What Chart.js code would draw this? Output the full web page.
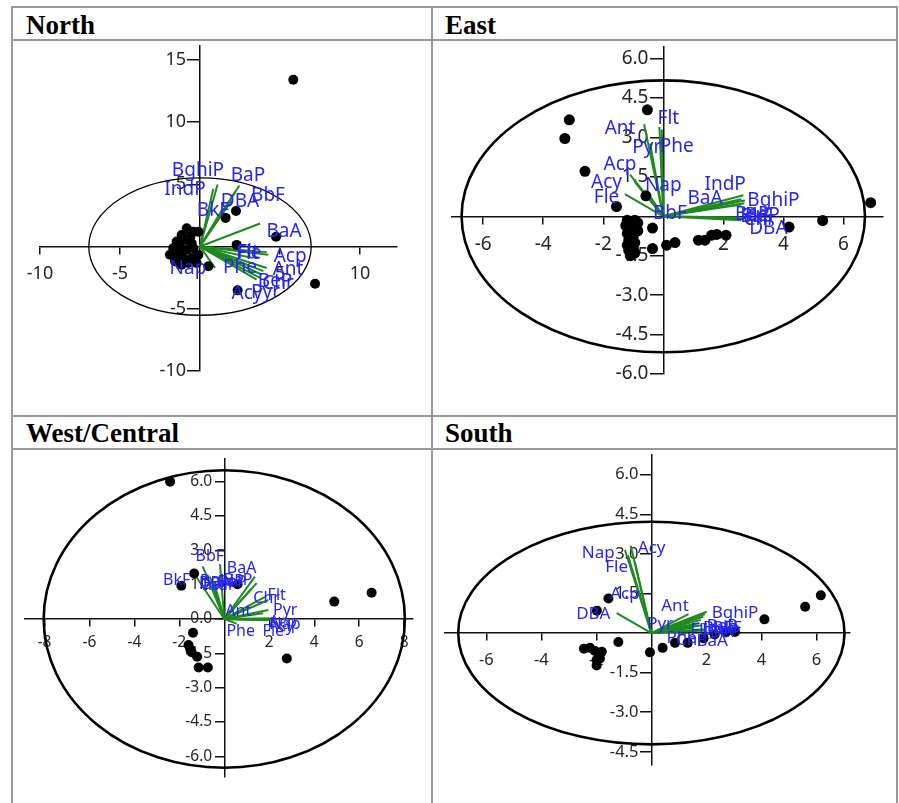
<!DOCTYPE html>
<html><head><meta charset="utf-8">
<script src="https://cdn.jsdelivr.net/npm/chart.js@4.4.1/dist/chart.umd.min.js"></script>
<style>
html,body{margin:0;padding:0;background:#fff;width:899px;height:803px;overflow:hidden;position:relative;}
.ln{position:absolute;background:#999;}
.ttl{position:absolute;font-family:"Liberation Serif","Times New Roman",serif;font-weight:bold;font-size:27px;color:#000;line-height:27px;white-space:nowrap;}
canvas{position:absolute;}
</style></head><body>
<div class="ln" style="left:11px;top:6px;width:887px;height:2px"></div>
<div class="ln" style="left:11px;top:39px;width:887px;height:2px"></div>
<div class="ln" style="left:11px;top:415px;width:887px;height:2px"></div>
<div class="ln" style="left:11px;top:448px;width:887px;height:2px"></div>
<div class="ln" style="left:11px;top:6px;width:2px;height:797px"></div>
<div class="ln" style="left:431px;top:6px;width:2px;height:797px"></div>
<div class="ln" style="left:896px;top:6px;width:2px;height:797px"></div>
<div class="ttl" style="left:26px;top:12px">North</div>
<div class="ttl" style="left:445px;top:12px">East</div>
<div class="ttl" style="left:26px;top:420px">West/Central</div>
<div class="ttl" style="left:445px;top:420px">South</div>
<canvas id="cNorth" width="418" height="374" style="left:13px;top:41px"></canvas>
<canvas id="cEast" width="463" height="374" style="left:433px;top:41px"></canvas>
<canvas id="cWest" width="418" height="353" style="left:13px;top:450px"></canvas>
<canvas id="cSouth" width="463" height="353" style="left:433px;top:450px"></canvas>
<script>
// ---------- DATA ----------
const varNames = ['Nap','Acy','Acp','Fle','Phe','Ant','Flt','Pyr','BaA','Chr','BeP','BbF','BkF','BaP','IndP','DBA','BghiP'];

// North
const northPointsX = [5.83, 7.19, 4.75, 2.29, 2.25, 1.6, 0.52, 2.35, -0.83, -1.15, -0.42, -0.1, -1.46, -0.94, -0.52, -1.67, -1.25, -0.83, -0.42, -1.88, -1.46, -1.04, -0.52, -0.1, -1.56, -1.15, -0.73, -0.21, -0.6, -1.3];
const northPointsY = [13.4, -2.99, 0.79, 0.13, 2.86, 2.3, -1.59, -3.52, 1.46, 0.93, 1.19, 1.19, 0.4, 0.53, 0.26, -0.13, -0.26, -0.26, -0.13, -0.66, -0.79, -0.93, -0.93, -0.66, -1.19, -1.46, -1.32, -1.32, 0.8, 0.1];
const northVecX = [0.94, 3.54, 4.27, 3.33, 2.92, 4.17, 4.17, 3.75, 3.75, 3.85, 3.96, 2.19, 1.35, 2.46, 0.83, 1.98, 1.1];
const northVecY = [-1.72, -2.65, -0.66, -0.93, -1.46, -1.72, -0.45, -2.51, 1.85, -2.25, -1.98, 4.37, 2.9, 4.9, 4.63, 3.7, 4.98];
const northLabelX = [-0.75, 2.94, 5.63, 3.05, 2.5, 5.5, 3.0, 4.1, 5.25, 4.88, 4.69, 4.25, 0.81, 3.0, -0.94, 2.5, -0.13];
const northLabelY = [-1.75, -3.81, -0.79, -0.55, -1.67, -1.83, -0.48, -3.73, 1.19, -3.0, -2.78, 4.13, 2.86, 5.71, 4.6, 3.65, 6.11];
const northXTicks = [-10, -5, 5, 10];
const northYTicks = [-10, -5, 5, 10, 15];
const northEllipse = [6.95, 5.52];

// East
const eastPointsX = [-3.13, -3.28, -0.53, -2.61, -1.56, -0.58, 6.91, 5.31, 4.19, -0.36, -0.36, 0.11, 0.39, 1.17, 1.39, 1.61, 1.78, 2.09, -1.2, -0.95, -0.85, -1.25, -1.05, -0.85, -1.2, -1.0, -1.15, -0.95, -1.2, -1.0, -1.15, -0.95, -1.1];
const eastPointsY = [3.67, 2.96, 4.05, 1.71, 0.37, 0.78, 0.52, -0.16, -0.41, -0.45, -1.23, -1.1, -1.0, -0.91, -0.91, -0.72, -0.69, -0.72, -0.15, -0.15, -0.25, -0.35, -0.45, -0.55, -0.65, -0.75, -0.9, -1.0, -1.1, -1.2, -1.3, -1.4, -1.5];
const eastVecX = [-0.55, -0.95, -1.11, -1.28, -0.05, -0.64, -0.13, -0.44, 2.6, 2.55, 2.6, 0.25, 2.65, 2.7, 2.67, 2.6, 2.72];
const eastVecY = [0.95, 1.3, 1.59, 0.84, 3.3, 3.5, 3.4, 2.77, 0.65, -0.05, 0.45, 0.05, -0.1, 0.5, 0.8, -0.15, 0.6];
const eastLabelX = [0.0, -1.89, -1.44, -1.89, 0.45, -1.44, 0.17, -0.55, 1.39, 3.2, 3.3, 0.22, 3.1, 2.96, 2.06, 3.5, 3.67];
const eastLabelY = [1.17, 1.27, 1.96, 0.71, 2.66, 3.34, 3.71, 2.62, 0.67, -0.12, 0.02, 0.09, -0.02, 0.07, 1.21, -0.48, 0.59];
const eastXTicks = [-6, -4, -2, 2, 4, 6];
const eastYTicks = [-6, -4.5, -3, -1.5, 1.5, 3, 4.5, 6];
const eastEllipse = [6.72, 5.17];

// West/Central
const westPointsX = [-2.41, -1.34, -1.91, 0.59, 4.89, 6.55, 2.78, -1.39, -1.59, -1.51, -1.45, -1.21, -1.14, -0.73];
const westPointsY = [6.0, 1.99, 1.45, 1.52, 0.76, 1.15, -1.73, -0.6, -1.14, -1.33, -1.45, -1.65, -2.12, -2.12];
const westVecX = [1.96, 2.0, 2.03, 1.9, 0.55, 1.73, 1.96, 1.96, 1.36, 1.81, 1.22, -0.96, -1.3, 1.44, -0.64, -0.45, -0.19];
const westVecY = [-0.04, -0.02, 0.03, -0.06, -0.2, 0.25, 0.83, 0.39, 1.85, 0.97, 1.34, 2.3, 1.92, 1.57, 1.85, 1.6, 2.39];
const westLabelX = [2.7, 2.52, 2.61, 2.18, 0.73, 0.62, 2.33, 2.71, 0.77, 1.88, 0.35, -0.64, -2.12, 0.61, -0.19, -0.41, -0.1];
const westLabelY = [-0.22, -0.31, -0.17, -0.55, -0.55, 0.32, 1.05, 0.39, 2.21, 0.9, 1.6, 2.72, 1.7, 1.7, 1.48, 1.57, 1.62];
const westXTicks = [-8, -6, -4, -2, 2, 4, 6, 8];
const westYTicks = [-6, -4.5, -3, -1.5, 0, 1.5, 3, 4.5, 6];
const westEllipse = [8.03, 6.5];

// South
const southPointsX = [6.16, 5.59, 4.11, 3.04, -1.56, -1.98, -1.2, -0.05, 0.41, 0.86, 1.32, 1.9, 2.3, 2.7, -2.45, -2.23, -2.05, -1.8, -1.87, -1.99, -1.99];
const southPointsY = [1.43, 1.0, 0.52, 0.04, 1.31, 0.85, -0.34, -0.73, -0.56, -0.37, -0.37, -0.2, -0.05, 0.02, -0.59, -0.56, -0.68, -0.71, -0.96, -1.02, -1.23];
const southVecX = [-0.96, -0.75, -0.6, -0.85, 1.2, 1.35, 1.6, 1.5, 2.0, 1.9, 1.85, 1.8, 1.75, 1.89, 1.95, -1.26, 2.01];
const southVecY = [3.15, 3.31, 2.7, 2.95, 0.1, 0.72, 0.3, 0.2, 0.1, 0.15, 0.3, 0.5, 0.38, 0.62, 0.72, 0.76, 0.81];
const southLabelX = [-1.93, 0.01, -0.96, -1.26, 1.1, 0.86, 1.77, 0.32, 2.21, 1.41, 2.68, 2.43, 2.75, 2.57, 2.5, -2.11, 3.04];
const southLabelY = [3.02, 3.21, 1.47, 2.5, -0.2, 1.03, 0.1, 0.32, -0.3, -0.26, 0.04, 0.19, 0.19, 0.26, 0.11, 0.7, 0.76];
const southXTicks = [-6, -4, -2, 2, 4, 6];
const southYTicks = [-4.5, -3, -1.5, 1.5, 3, 4.5, 6];
const southEllipse = [7.02, 4.22];

// ---------- RENDER ----------
const GREEN = '#1f8a1f';
const BLUE = '#2626f0';
const TICKC = '#262626';
const FONT = '"Noto Sans", "Open Sans", sans-serif';

const ellipsePlugin = {
  id: 'ellipseOutline',
  beforeDatasetsDraw(chart) {
    const o = chart.$ell; if (!o) return;
    const xs = chart.scales.x, ys = chart.scales.y, ctx = chart.ctx;
    const cx = xs.getPixelForValue(0), cy = ys.getPixelForValue(0);
    const rx = xs.getPixelForValue(o.r[0]) - cx, ry = cy - ys.getPixelForValue(o.r[1]);
    ctx.save();
    ctx.beginPath();
    ctx.ellipse(cx, cy, rx, ry, 0, 0, Math.PI * 2);
    ctx.lineWidth = o.w; ctx.strokeStyle = o.c; ctx.stroke();
    ctx.restore();
  }
};
const labelPlugin = {
  id: 'varLabels',
  afterDatasetsDraw(chart) {
    const o = chart.$lab; if (!o) return;
    const xs = chart.scales.x, ys = chart.scales.y, ctx = chart.ctx;
    ctx.save();
    ctx.font = o.size + 'px ' + FONT;
    ctx.fillStyle = BLUE; ctx.textAlign = 'center'; ctx.textBaseline = 'middle';
    o.names.forEach((n, i) => ctx.fillText(n, xs.getPixelForValue(o.x[i]), ys.getPixelForValue(o.y[i])));
    ctx.restore();
  }
};

function zeroFit(horizontal) {
  return s => {
    if (horizontal) s.height = 0; else s.width = 0;
    s.paddingLeft = 0; s.paddingRight = 0; s.paddingTop = 0; s.paddingBottom = 0;
  };
}

function panel(id, p) {
  const datasets = [];
  datasets.push({
    type: 'scatter', order: 1,
    data: p.px.map((x, i) => ({x, y: p.py[i]})),
    backgroundColor: '#000', borderColor: '#000', pointRadius: p.r, borderWidth: 0, pointHoverRadius: p.r
  });
  varNames.forEach((n, i) => datasets.push({
    type: 'line', order: 2, label: n,
    data: [{x: 0, y: 0}, {x: p.vx[i], y: p.vy[i]}],
    borderColor: GREEN, borderWidth: 2, pointRadius: 0, fill: false, tension: 0
  }));
  const gap = ' '.repeat(p.gap);
  const chart = new Chart(document.getElementById(id), {
    data: {datasets},
    plugins: [ellipsePlugin, labelPlugin],
    options: {
      responsive: false, animation: false, devicePixelRatio: 1,
      layout: {padding: p.pad},
      plugins: {legend: {display: false}, tooltip: {enabled: false}, title: {display: false}},
      scales: {
        x: {
          type: 'linear', min: p.xr[0], max: p.xr[1], position: {y: 0},
          afterBuildTicks: s => { s.ticks = p.xt.map(v => ({value: v})); },
          afterFit: zeroFit(true),
          grid: {display: true, drawOnChartArea: false, drawTicks: true, tickLength: p.xtl, color: '#111', lineWidth: 1.5},
          border: {display: true, color: '#111', width: 1.5},
          ticks: {autoSkip: false, maxRotation: 0, minRotation: 0, padding: p.xpad, color: TICKC,
                  font: {family: FONT, size: p.tf}, callback: v => String(v)}
        },
        y: {
          type: 'linear', min: p.yr[0], max: p.yr[1], position: {x: 0},
          afterBuildTicks: s => { s.ticks = p.yt.map(v => ({value: v})); },
          afterFit: zeroFit(false),
          grid: {display: true, drawOnChartArea: false, drawTicks: true, tickLength: p.ytl, color: '#111', lineWidth: 1.5},
          border: {display: true, color: '#111', width: 1.5},
          ticks: {autoSkip: false, padding: 2, color: TICKC,
                  font: {family: FONT, size: p.tf}, callback: v => (p.dec ? Number(v).toFixed(1) : String(v)) + gap}
        }
      }
    }
  });
  chart.$ell = {r: p.ell, w: p.ew, c: '#000'};
  chart.$lab = {names: varNames, x: p.lx, y: p.ly, size: p.lf};
  chart.update();
}

panel('cNorth', {
  px: northPointsX, py: northPointsY, vx: northVecX, vy: northVecY, lx: northLabelX, ly: northLabelY,
  xt: northXTicks, yt: northYTicks, ell: northEllipse, ew: 1.3,
  xr: [-10, 12.31], yr: [-10, 16.11], pad: {left: 27, right: 34, top: 1, bottom: 44},
  r: 5, tf: 18, lf: 19, xtl: 7, xpad: 10, ytl: 12, gap: 3, dec: false
});
panel('cEast', {
  px: eastPointsX, py: eastPointsY, vx: eastVecX, vy: eastVecY, lx: eastLabelX, ly: eastLabelY,
  xt: eastXTicks, yt: eastYTicks, ell: eastEllipse, ew: 2.6,
  xr: [-7.05, 7.32], yr: [-6, 6.46], pad: {left: 18.7, right: 13, top: 0.7, bottom: 41},
  r: 5.5, tf: 19, lf: 19, xtl: 7, xpad: 10, ytl: 13, gap: 3, dec: true
});
panel('cWest', {
  px: westPointsX, py: westPointsY, vx: westVecX, vy: westVecY, lx: westLabelX, ly: westLabelY,
  xt: westXTicks, yt: westYTicks, ell: westEllipse, ew: 2.6,
  xr: [-8.86, 8.39], yr: [-6.89, 7.02], pad: {left: 12, right: 18, top: 8.3, bottom: 26.3},
  r: 5, tf: 15.5, lf: 16, xtl: 7, xpad: 7.5, ytl: 9, gap: 3, dec: true
});
panel('cSouth', {
  px: southPointsX, py: southPointsY, vx: southVecX, vy: southVecY, lx: southLabelX, ly: southLabelY,
  xt: southXTicks, yt: southYTicks, ell: southEllipse, ew: 2.6,
  xr: [-7.5, 7.22], yr: [-5.0, 6.75], pad: {left: 12, right: 46, top: 0, bottom: 38},
  r: 5, tf: 16.5, lf: 17, xtl: 7, xpad: 10, ytl: 11, gap: 3, dec: true
});
</script>
</body></html>
